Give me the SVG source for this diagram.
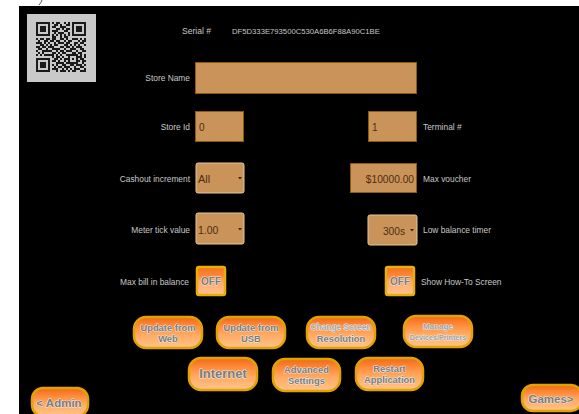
<svg xmlns="http://www.w3.org/2000/svg" width="579" height="414" viewBox="0 0 579 414">
<defs>
<linearGradient id="btn" x1="0" y1="0" x2="0" y2="1">
<stop offset="0" stop-color="#f06818"/>
<stop offset="0.3" stop-color="#ff8c3a"/>
<stop offset="0.55" stop-color="#ffa860"/>
<stop offset="1" stop-color="#ffc48a"/>
</linearGradient>
<linearGradient id="tog" x1="0" y1="0" x2="0" y2="1">
<stop offset="0" stop-color="#f27020"/>
<stop offset="0.35" stop-color="#ff8a38"/>
<stop offset="0.5" stop-color="#ffa868"/>
<stop offset="1" stop-color="#ffc294"/>
</linearGradient>
</defs>
<style>
.lbl{font-family:"Liberation Sans",Arial,sans-serif;font-size:8.4px;fill:#c8c8c8}
.fld{fill:#ca935a;stroke:#8a5c08;stroke-width:1}
.dd{fill:#ca935a;stroke:#e2c89a;stroke-width:1}
.ftx{font-family:"Liberation Sans",Arial,sans-serif;font-size:10px;fill:#4a2e10}
.arr{fill:#3a2410}
.bt{fill:url(#btn);stroke:#e2a200;stroke-width:2.5}
.tg{fill:url(#tog);stroke:#e8b000;stroke-width:2.5}
.bx{font-family:"Liberation Sans",Arial,sans-serif;font-weight:bold;font-size:9.4px;fill:#7c7c7c;stroke:#eeeeee;stroke-width:0.9px;paint-order:stroke;stroke-linejoin:round;text-anchor:middle}
</style>
<rect x="0" y="0" width="579" height="414" fill="#ffffff"/>
<path d="M39 5 Q41 3 42 0" fill="none" stroke="#555" stroke-width="1"/>
<rect x="19" y="6" width="560" height="408" fill="#000000"/>

<g id="qr">
<rect x="27" y="14" width="69" height="68" fill="#c9c9c9"/>
<path transform="translate(36,22) scale(2)" fill="#1a1a1a" d="M0 0h7v1h-7zM8 0h1v1h-1zM10 0h2v1h-2zM14 0h1v1h-1zM16 0h1v1h-1zM18 0h7v1h-7z
M0 1h1v1h-1zM6 1h1v1h-1zM9 1h2v1h-2zM12 1h1v1h-1zM15 1h2v1h-2zM18 1h1v1h-1zM24 1h1v1h-1z
M0 2h1v1h-1zM2 2h3v1h-3zM6 2h1v1h-1zM8 2h2v1h-2zM12 2h3v1h-3zM18 2h1v1h-1zM20 2h3v1h-3zM24 2h1v1h-1z
M0 3h1v1h-1zM2 3h3v1h-3zM6 3h1v1h-1zM10 3h2v1h-2zM13 3h1v1h-1zM15 3h2v1h-2zM18 3h1v1h-1zM20 3h3v1h-3zM24 3h1v1h-1z
M0 4h1v1h-1zM2 4h3v1h-3zM6 4h1v1h-1zM8 4h3v1h-3zM14 4h2v1h-2zM18 4h1v1h-1zM20 4h3v1h-3zM24 4h1v1h-1z
M0 5h1v1h-1zM6 5h1v1h-1zM9 5h1v1h-1zM11 5h3v1h-3zM16 5h1v1h-1zM18 5h1v1h-1zM24 5h1v1h-1z
M0 6h7v1h-7zM8 6h1v1h-1zM10 6h1v1h-1zM12 6h1v1h-1zM14 6h1v1h-1zM16 6h1v1h-1zM18 6h7v1h-7z
M8 7h2v1h-2zM12 7h1v1h-1zM14 7h2v1h-2z
M0 8h1v1h-1zM2 8h2v1h-2zM5 8h2v1h-2zM8 8h2v1h-2zM12 8h2v1h-2zM15 8h1v1h-1zM18 8h3v1h-3zM22 8h1v1h-1zM24 8h1v1h-1z
M1 9h1v1h-1zM4 9h2v1h-2zM7 9h2v1h-2zM10 9h2v1h-2zM14 9h1v1h-1zM16 9h2v1h-2zM21 9h1v1h-1zM23 9h2v1h-2z
M0 10h3v1h-3zM4 10h1v1h-1zM6 10h1v1h-1zM9 10h1v1h-1zM11 10h3v1h-3zM15 10h2v1h-2zM19 10h2v1h-2zM22 10h2v1h-2z
M2 11h2v1h-2zM5 11h1v1h-1zM7 11h1v1h-1zM9 11h2v1h-2zM14 11h2v1h-2zM17 11h1v1h-1zM19 11h1v1h-1zM21 11h1v1h-1zM24 11h1v1h-1z
M0 12h2v1h-2zM3 12h2v1h-2zM6 12h3v1h-3zM12 12h2v1h-2zM15 12h2v1h-2zM18 12h1v1h-1zM20 12h3v1h-3z
M1 13h2v1h-2zM5 13h1v1h-1zM8 13h4v1h-4zM14 13h1v1h-1zM17 13h3v1h-3zM22 13h2v1h-2z
M0 14h1v1h-1zM3 14h5v1h-5zM10 14h1v1h-1zM12 14h2v1h-2zM15 14h3v1h-3zM20 14h1v1h-1zM23 14h2v1h-2z
M1 15h1v1h-1zM3 15h1v1h-1zM8 15h2v1h-2zM11 15h1v1h-1zM13 15h2v1h-2zM18 15h2v1h-2zM21 15h2v1h-2z
M0 16h1v1h-1zM2 16h1v1h-1zM4 16h5v1h-5zM10 16h1v1h-1zM12 16h1v1h-1zM15 16h6v1h-6zM22 16h1v1h-1zM24 16h1v1h-1z
M8 17h1v1h-1zM10 17h2v1h-2zM13 17h1v1h-1zM16 17h1v1h-1zM20 17h3v1h-3zM24 17h1v1h-1z
M0 18h7v1h-7zM9 18h2v1h-2zM12 18h1v1h-1zM14 18h3v1h-3zM18 18h1v1h-1zM20 18h1v1h-1zM22 18h2v1h-2z
M0 19h1v1h-1zM6 19h1v1h-1zM8 19h2v1h-2zM11 19h1v1h-1zM14 19h1v1h-1zM16 19h1v1h-1zM20 19h2v1h-2zM23 19h2v1h-2z
M0 20h1v1h-1zM2 20h3v1h-3zM6 20h1v1h-1zM10 20h4v1h-4zM15 20h6v1h-6zM23 20h1v1h-1z
M0 21h1v1h-1zM2 21h3v1h-3zM6 21h1v1h-1zM8 21h1v1h-1zM10 21h1v1h-1zM13 21h2v1h-2zM17 21h2v1h-2zM20 21h3v1h-3zM24 21h1v1h-1z
M0 22h1v1h-1zM2 22h3v1h-3zM6 22h1v1h-1zM9 22h1v1h-1zM11 22h2v1h-2zM14 22h3v1h-3zM19 22h1v1h-1zM22 22h2v1h-2z
M0 23h1v1h-1zM6 23h1v1h-1zM8 23h3v1h-3zM13 23h1v1h-1zM15 23h1v1h-1zM17 23h1v1h-1zM19 23h3v1h-3zM24 23h1v1h-1z
M0 24h7v1h-7zM10 24h1v1h-1zM12 24h3v1h-3zM16 24h1v1h-1zM18 24h2v1h-2zM22 24h3v1h-3z"/>
</g>

<g id="serial">
<text class="lbl" x="182" y="34" style="font-size:8.6px">Serial #</text>
<text class="lbl" x="232" y="34" style="font-size:7.7px">DF5D333E793500C530A6B6F88A90C1BE</text>
</g>

<g id="store-name">
<text class="lbl" x="190" y="81" text-anchor="end">Store Name</text>
<rect class="fld" x="195.5" y="62.5" width="221" height="31"/>
</g>

<g id="store-id">
<text class="lbl" x="190" y="130" text-anchor="end">Store Id</text>
<rect class="fld" x="195.5" y="111.5" width="48" height="30"/>
<text class="ftx" x="199" y="131">0</text>
</g>

<g id="terminal">
<rect class="fld" x="368.5" y="111.5" width="48" height="30"/>
<text class="ftx" x="372" y="131">1</text>
<text class="lbl" x="423" y="130">Terminal #</text>
</g>

<g id="cashout">
<text class="lbl" x="190" y="182" text-anchor="end">Cashout increment</text>
<rect class="dd" x="196" y="163" width="48" height="30" rx="2"/>
<text class="ftx" x="198" y="183" style="font-size:11px">All</text>
<path class="arr" d="M238 177h4l-2 2.5z"/>
</g>

<g id="max-voucher">
<rect class="fld" x="350.5" y="163.5" width="66" height="29"/>
<text class="ftx" x="414" y="183" text-anchor="end" style="font-size:10.2px">$10000.00</text>
<text class="lbl" x="423" y="182">Max voucher</text>
</g>

<g id="meter-tick">
<text class="lbl" x="190" y="233" text-anchor="end">Meter tick value</text>
<rect class="dd" x="196" y="213" width="48" height="31" rx="2"/>
<text class="ftx" x="198" y="234" style="font-size:10.5px">1.00</text>
<path class="arr" d="M238 228h4l-2 2.5z"/>
</g>

<g id="low-balance">
<rect class="dd" x="368" y="215" width="49" height="30" rx="2"/>
<text class="ftx" x="405" y="235" text-anchor="end" style="font-size:10.2px">300s</text>
<path class="arr" d="M410 229h4l-2 2.5z"/>
<text class="lbl" x="423" y="233">Low balance timer</text>
</g>

<g id="max-bill">
<text class="lbl" x="189" y="285" text-anchor="end">Max bill in balance</text>
<rect class="tg" x="197" y="267" width="28" height="28" rx="2"/>
<text class="bx" x="211" y="285" style="font-size:10px">OFF</text>
</g>

<g id="how-to">
<rect class="tg" x="386" y="267" width="28" height="28" rx="2"/>
<text class="bx" x="400" y="285" style="font-size:10px">OFF</text>
<text class="lbl" x="421" y="285">Show How-To Screen</text>
</g>

<g id="update-web">
<rect class="bt" x="134" y="317" width="68" height="31" rx="12"/>
<text class="bx" x="168" y="331">Update from</text>
<text class="bx" x="168" y="342">Web</text>
</g>

<g id="update-usb">
<rect class="bt" x="217" y="317" width="68" height="31" rx="12"/>
<text class="bx" x="251" y="331">Update from</text>
<text class="bx" x="251" y="342">USB</text>
</g>

<g id="change-res">
<rect class="bt" x="307" y="317" width="68" height="31" rx="12"/>
<text class="bx" x="341" y="330" style="font-size:8.4px;fill:#a8a8a8">Change Screen</text>
<text class="bx" x="341" y="342">Resolution</text>
</g>

<g id="manage">
<rect class="bt" x="404" y="316" width="68" height="31" rx="12"/>
<text class="bx" x="438" y="329" style="font-size:8px;fill:#a0a0a0">Manage</text>
<text class="bx" x="438" y="340" style="font-size:7.2px;fill:#a0a0a0">Devices/Printers</text>
</g>

<g id="internet">
<rect class="bt" x="189" y="358" width="68" height="32" rx="12"/>
<text class="bx" x="223" y="378" style="font-size:13px">Internet</text>
</g>

<g id="advanced">
<rect class="bt" x="273" y="359" width="67" height="32" rx="12"/>
<text class="bx" x="306.5" y="373">Advanced</text>
<text class="bx" x="306.5" y="384">Settings</text>
</g>

<g id="restart">
<rect class="bt" x="356" y="358" width="67" height="32" rx="12"/>
<text class="bx" x="389.5" y="372">Restart</text>
<text class="bx" x="389.5" y="383">Application</text>
</g>

<g id="admin">
<rect class="bt" x="32" y="388" width="56" height="28" rx="11"/>
<text class="bx" x="59" y="407" style="font-size:11.5px">&lt; Admin</text>
</g>

<g id="games">
<rect class="bt" x="522" y="385" width="60" height="26" rx="11"/>
<text class="bx" x="551" y="403" style="font-size:11.5px">Games&gt;</text>
</g>

<g id="connectors"></g>
</svg>
